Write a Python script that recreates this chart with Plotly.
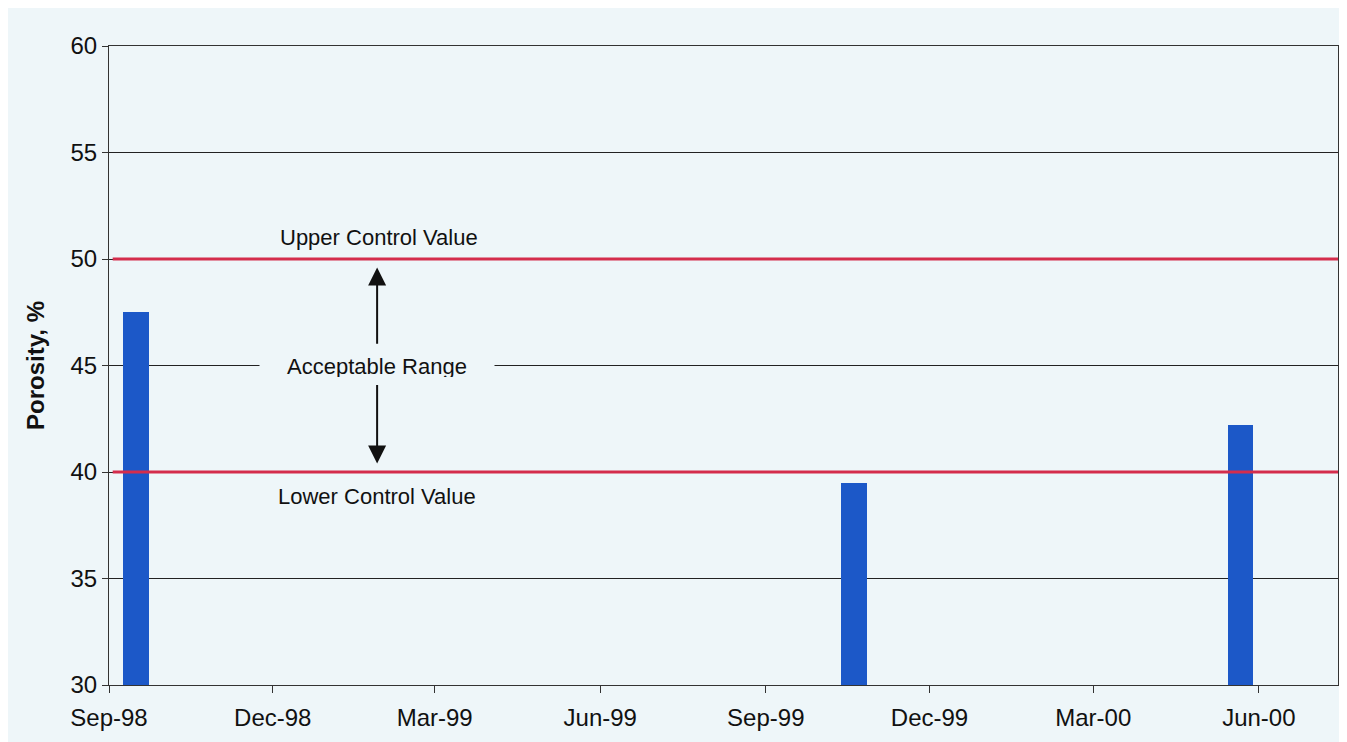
import plotly.graph_objects as go

# Data
sample_dates = ["1998-09-16", "1999-10-20", "2000-05-22"]
porosity = [47.5, 39.5, 42.2]
upper_control = 50
lower_control = 40
tick_dates = ["1998-09-01", "1998-12-01", "1999-03-01", "1999-06-01",
              "1999-09-01", "1999-12-01", "2000-03-01", "2000-06-01"]
tick_labels = ["Sep-98", "Dec-98", "Mar-99", "Jun-99",
               "Sep-99", "Dec-99", "Mar-00", "Jun-00"]
x_range = ["1998-09-01", "2000-07-15"]
y_range = [30, 60]

BG = "#eef6f9"
FONT = "Liberation Sans, Arial, sans-serif"
DAY_MS = 86400000

fig = go.Figure()
fig.add_trace(go.Bar(
    x=sample_dates, y=[v - y_range[0] for v in porosity], base=y_range[0],
    width=[14 * DAY_MS] * len(sample_dates),
    marker=dict(color="#1c58c8", line=dict(width=0)),
    showlegend=False,
))

shapes = []
for yv in [upper_control, lower_control]:
    shapes.append(dict(type="line", xref="paper", yref="y", x0=0.003, x1=1, y0=yv, y1=yv,
                       line=dict(color="#d42d4c", width=3), layer="above"))

annotations = [
    dict(x="1999-01-28", y=45, xref="x", yref="y", text="Acceptable Range", showarrow=False,
         font=dict(family=FONT, size=22, color="#111111"), bgcolor=BG, width=232, height=22),
    dict(x="1999-01-29", y=51.0, xref="x", yref="y", text="Upper Control Value", showarrow=False,
         font=dict(family=FONT, size=22, color="#111111")),
    dict(x="1999-01-28", y=38.85, xref="x", yref="y", text="Lower Control Value", showarrow=False,
         font=dict(family=FONT, size=22, color="#111111")),
    dict(x="1999-01-28", y=49.6, xref="x", yref="y", ax="1999-01-28", ay=45.95,
         axref="x", ayref="y", text="", showarrow=True, arrowhead=2, arrowsize=1.8,
         arrowwidth=2, arrowcolor="#111111", standoff=0, startstandoff=0),
    dict(x="1999-01-28", y=40.4, xref="x", yref="y", ax="1999-01-28", ay=44.15,
         axref="x", ayref="y", text="", showarrow=True, arrowhead=2, arrowsize=1.8,
         arrowwidth=2, arrowcolor="#111111", standoff=0, startstandoff=0),
]

fig.update_layout(
    width=1347, height=734,
    margin=dict(l=101, r=17, t=38, b=57),
    paper_bgcolor=BG, plot_bgcolor=BG,
    font=dict(family=FONT, color="#111111"),
    shapes=shapes, annotations=annotations,
    bargap=0,
    xaxis=dict(
        type="date", range=x_range, tickvals=tick_dates, ticktext=tick_labels,
        showgrid=False, showline=True, linecolor="#333333", linewidth=1.2, mirror=True,
        ticks="outside", ticklen=7, tickcolor="#333333", tickfont=dict(size=24, family=FONT),
        ticklabelstandoff=4, zeroline=False,
    ),
    yaxis=dict(
        range=y_range, tickvals=[30, 35, 40, 45, 50, 55, 60],
        showgrid=True, gridcolor="#222222", gridwidth=1,
        showline=True, linecolor="#333333", linewidth=1.2, mirror=True,
        ticks="outside", ticklen=6, tickcolor="#333333", tickfont=dict(size=24, family=FONT),
        zeroline=False,
        title=dict(text="<b>Porosity, %</b>", font=dict(size=24, family=FONT), standoff=18),
    ),
)

fig.write_html("out.html")
